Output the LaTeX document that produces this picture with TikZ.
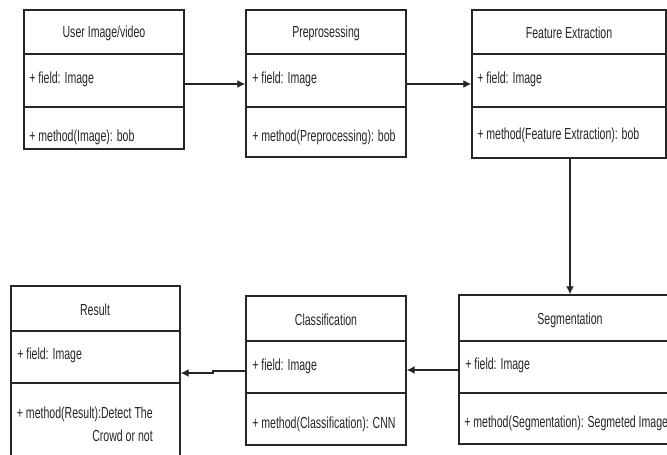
\documentclass[tikz,border=0pt]{standalone}
\usepackage{fontspec}
\setmainfont[FakeStretch=0.66]{Liberation Sans}
\usetikzlibrary{arrows.meta,fit}
\begin{document}
\begin{tikzpicture}[x=0.75pt,y=-0.75pt,
  box/.style={draw=black!85, line width=1.1pt, inner sep=0pt},
  sepline/.style={draw=black!85, line width=1.1pt},
  ttl/.style={font=\fontsize{12}{14}\selectfont, inner sep=0pt, text=black!85},
  lbl/.style={font=\fontsize{12}{14}\selectfont, inner sep=0pt, anchor=west, text=black!85},
  arr/.style={draw=black!85, line width=1pt, -{Latex[length=6pt,width=6pt]}}]
\useasboundingbox (0,0) rectangle (667,454);
\fill[white] (0,0) rectangle (667,454);
\clip (0,0) rectangle (667,454);
% top row
\node[box, fit={(24,10) (184,149)}] (a) {};
\draw[sepline] (24,54) -- (184,54) (24,107) -- (184,107);
\node[ttl] (at) at (104,33) {User Image/video};
\node[lbl] (af) at (29,79) {+ field: Image};
\node[lbl] (am) at (29,137) {+ method(Image): bob};

\node[box, fit={(246,10) (406,157)}] (b) {};
\draw[sepline] (246,54) -- (406,54) (246,107) -- (406,107);
\node[ttl] (bt) at (326,33) {Preprosessing};
\node[lbl] (bf) at (252,79) {+ field: Image};
\node[lbl] (bm) at (252,137) {+ method(Preprocessing): bob};

\node[box, fit={(472,10) (666,158)}] (c) {};
\draw[sepline] (472,54) -- (666,54) (472,107) -- (666,107);
\node[ttl] (ct) at (569,33) {Feature Extraction};
\node[lbl] (cf) at (477,79) {+ field: Image};
\node[lbl] (cm) at (477,135) {+ method(Feature Extraction): bob};

% bottom row
\node[box, fit={(459,295) (682,444)}] (seg) {};
\draw[sepline] (459,341) -- (682,341) (459,393) -- (682,393);
\node[ttl] (segt) at (570,320) {Segmentation};
\node[lbl] (segf) at (465,365) {+ field: Image};
\node[lbl] (segm) at (464,423) {+ method(Segmentation): Segmeted Image};

\node[box, fit={(246,296) (406,445)}] (cls) {};
\draw[sepline] (246,341) -- (406,341) (246,393) -- (406,393);
\node[ttl] (clst) at (326,320) {Classification};
\node[lbl] (clsf) at (252,366) {+ field: Image};
\node[lbl] (clsm) at (252,424) {+ method(Classification): CNN};

\node[box, fit={(11,286) (180,470)}] (res) {};
\draw[sepline] (11,331) -- (180,331) (11,383) -- (180,383);
\node[ttl] (rest) at (95,310) {Result};
\node[lbl] (resf) at (17,355) {+ field: Image};
\node[ttl, anchor=east, align=right, font=\fontsize{12}{17.25}\selectfont] (resm) at (153,424.5) {+ method(Result):Detect The\\Crowd or not};

% connectors
\draw[arr] (a.east |- 0,84) -- (b.west |- 0,84);
\draw[arr] (b.east |- 0,84) -- (c.west |- 0,84);
\draw[arr] (c.south -| 570,0) -- (seg.north -| 570,0);
\draw[arr] (seg.west |- 0,370) -- (cls.east |- 0,370);
\coordinate (j1) at (213,371);
\coordinate (j2) at (213,373);
\draw[arr] (cls.west |- j1) -- (j1) -- (j2) -- (res.east |- j2);
\end{tikzpicture}
\end{document}
